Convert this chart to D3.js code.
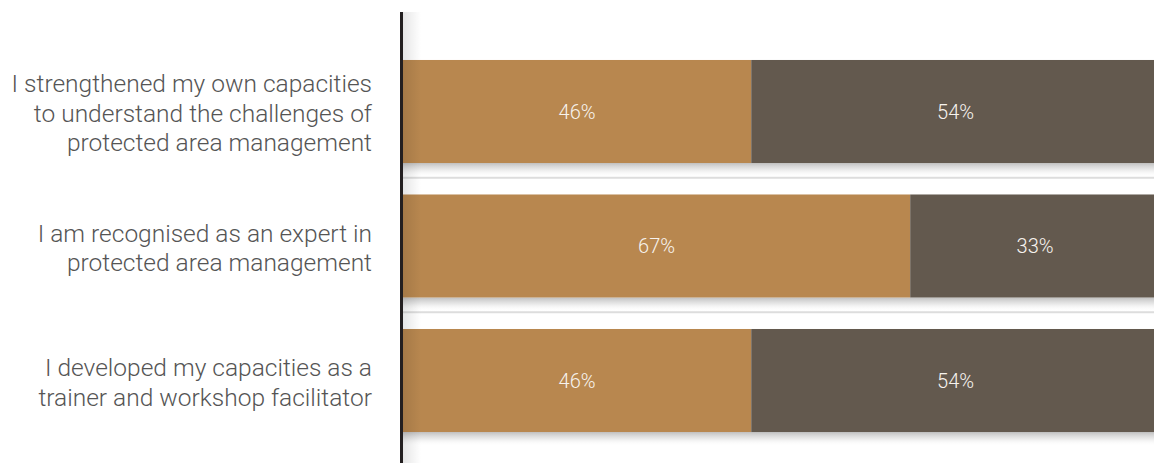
<!DOCTYPE html>
<html>
<head>
<meta charset="utf-8">
<script src="https://cdn.jsdelivr.net/npm/d3@7"></script>
<style>
  html, body { margin: 0; padding: 0; background: #fff; }
  svg { display: block; }
</style>
</head>
<body>
<svg id="chart" width="1154" height="463"></svg>
<script>
// Statements, one per row, split into display lines
const categories = [
  ["I strengthened my own capacities", "to understand the challenges of", "protected area management"],
  ["I am recognised as an expert in", "protected area management"],
  ["I developed my capacities as a", "trainer and workshop facilitator"]
];
const seriesKeys = ["first", "second"];
const firstValues = [46, 67, 46];
const secondValues = [54, 33, 54];
const seriesColors = ["#b8874f", "#63594e"];

const width = 1154, height = 463;
const svg = d3.select("#chart");
const defs = svg.append("defs");

const rows = categories.map((lines, i) => ({
  key: i,
  lines,
  first: firstValues[i],
  second: secondValues[i]
}));

const x = d3.scaleLinear().domain([0, 100]).range([403, 1160]);
const y = d3.scaleBand()
  .domain(rows.map(d => d.key))
  .range([28.5, 463.5])
  .paddingInner(0.234)
  .paddingOuter(0.234);

const stacked = d3.stack().keys(seriesKeys)(rows);

// soft shadow below each bar
const shadowGrad = defs.append("linearGradient")
  .attr("id", "barShadow").attr("x1", 0).attr("y1", 0).attr("x2", 0).attr("y2", 1);
shadowGrad.append("stop").attr("offset", "0%").attr("stop-color", "#b9b9b9").attr("stop-opacity", 0.9);
shadowGrad.append("stop").attr("offset", "45%").attr("stop-color", "#d8d8d8").attr("stop-opacity", 0.6);
shadowGrad.append("stop").attr("offset", "100%").attr("stop-color", "#ffffff").attr("stop-opacity", 0);

// shadow cast to the right of the axis
const axisGrad = defs.append("linearGradient")
  .attr("id", "axisShadow").attr("x1", 0).attr("y1", 0).attr("x2", 1).attr("y2", 0);
axisGrad.append("stop").attr("offset", "0%").attr("stop-color", "#000").attr("stop-opacity", 0.10);
axisGrad.append("stop").attr("offset", "100%").attr("stop-color", "#000").attr("stop-opacity", 0);

// separators between rows
const step = y.step();
const gap = step - y.bandwidth();
svg.append("g").selectAll("line")
  .data(rows.slice(1))
  .join("line")
  .attr("x1", x(0)).attr("x2", width)
  .attr("y1", d => y(d.key) - gap / 2 - 1)
  .attr("y2", d => y(d.key) - gap / 2 - 1)
  .attr("stroke", "#dddddd")
  .attr("stroke-width", 2);

svg.append("g").selectAll("rect")
  .data(rows)
  .join("rect")
  .attr("x", x(0))
  .attr("width", width - x(0))
  .attr("y", d => y(d.key) + y.bandwidth())
  .attr("height", 14)
  .attr("fill", "url(#barShadow)");

// stacked segments
const segs = svg.append("g").selectAll("g")
  .data(stacked)
  .join("g")
  .attr("fill", (d, i) => seriesColors[i]);

segs.selectAll("rect")
  .data(d => d)
  .join("rect")
  .attr("x", d => x(d[0]))
  .attr("width", d => x(d[1]) - x(d[0]))
  .attr("y", d => y(d.data.key))
  .attr("height", y.bandwidth());

segs.selectAll("text")
  .data(d => d)
  .join("text")
  .attr("x", d => (x(d[0]) + x(d[1])) / 2)
  .attr("y", d => y(d.data.key) + y.bandwidth() / 2)
  .attr("dy", "0.36em")
  .attr("text-anchor", "middle")
  .attr("fill", "#f7f3ee")
  .attr("font-family", "Roboto, 'Helvetica Neue', Arial, sans-serif")
  .attr("font-weight", 300)
  .attr("font-size", 20)
  .text(d => (d[1] - d[0]) + "%");

// axis shadow
svg.append("rect")
  .attr("x", x(0)).attr("y", 12)
  .attr("width", 18).attr("height", height - 12)
  .attr("fill", "url(#axisShadow)");

// vertical axis
svg.append("line")
  .attr("x1", 401.5).attr("x2", 401.5)
  .attr("y1", 12).attr("y2", height)
  .attr("stroke", "#231f20")
  .attr("stroke-width", 3);

// row labels
const lineH = 29.5;
const labels = svg.append("g").selectAll("text")
  .data(rows)
  .join("text")
  .attr("text-anchor", "end")
  .attr("fill", "#555555")
  .attr("font-family", "Roboto, 'Helvetica Neue', Arial, sans-serif")
  .attr("font-weight", 300)
  .attr("font-size", 24.5);

labels.selectAll("tspan")
  .data(d => d.lines.map((t, i) => ({
    t, i, n: d.lines.length, c: y(d.key) + y.bandwidth() / 2
  })))
  .join("tspan")
  .attr("x", 372)
  .attr("y", d => d.c + (d.i - (d.n - 1) / 2) * lineH + 10.5)
  .text(d => d.t);
</script>
</body>
</html>
